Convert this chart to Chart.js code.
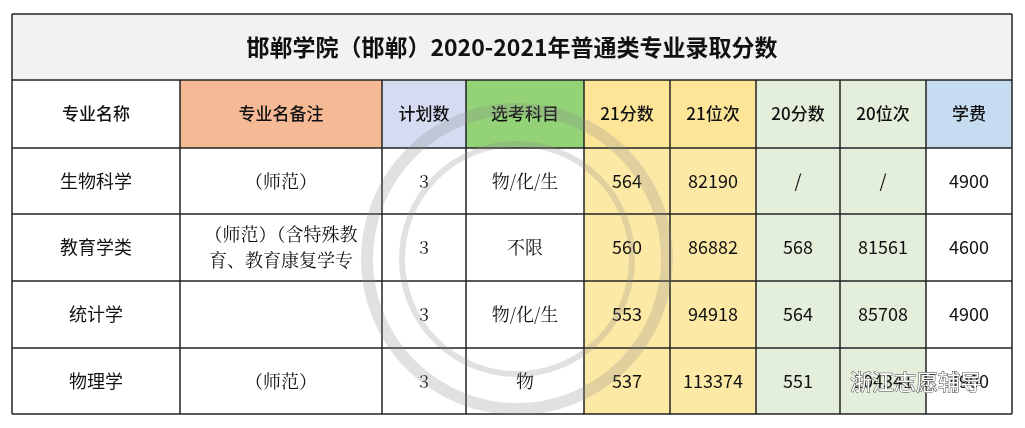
<!DOCTYPE html>
<html><head><meta charset="utf-8">
<script src="https://cdn.jsdelivr.net/npm/chart.js@4"></script>
<style>html,body{margin:0;padding:0;background:#fff}#w{width:1025px;height:428px}</style>
</head><body><div id="w"><canvas id="c"></canvas></div>
<script>
const title = "邯郸学院（邯郸）2020-2021年普通类专业录取分数";
const headers = ["专业名称","专业名备注","计划数","选考科目","21分数","21位次","20分数","20位次","学费"];
const majors = ["生物科学","教育学类","统计学","物理学"];
const notes = ["（师范）","（师范）（含特殊教育、教育康复学专","","（师范）"];
const plans = ["3","3","3","3"];
const subjects = ["物/化/生","不限","物/化/生","物"];
const score21 = ["564","560","553","537"];
const rank21 = ["82190","86882","94918","113374"];
const score20 = ["/","568","564","551"];
const rank20 = ["/","81561","85708","104341"];
const fees = ["4900","4600","4900","4900"];

const colEdges = [0,168,370,454,572,658,744,828,914,1000];
const rowEdges = [0,66,134,200,267,334,400];
const headBg = ["#ffffff","#f5b995","#d5dcf1","#93d277","#fde598","#fde598","#e3efda","#e3efda","#c6dcf1"];
const bodyBg = ["#ffffff","#ffffff","#ffffff","#ffffff","#fde9a6","#fde9a6","#e3efda","#e3efda","#ffffff"];

const tablePlugin = {id:'table', afterDraw(chart){
  const ctx = chart.ctx, X = chart.scales.x, Y = chart.scales.y;
  const px = v => X.getPixelForValue(v), py = v => Y.getPixelForValue(v);
  const rows = majors.map((m,i)=>[m,notes[i],plans[i],subjects[i],score21[i],rank21[i],score20[i],rank20[i],fees[i]]);
  ctx.save();
  ctx.fillStyle="#f2f2f2"; ctx.fillRect(px(0),py(0),px(1000)-px(0),py(66)-py(0));
  ctx.fillStyle="#111"; ctx.font="bold 23px 'Noto Sans CJK SC'"; ctx.textAlign="center"; ctx.textBaseline="middle";
  ctx.fillText(title,(px(0)+px(1000))/2,(py(0)+py(66))/2);
  const all=[headers,...rows];
  all.forEach((r,ri)=>{
    const y0=py(rowEdges[ri+1]), y1=py(rowEdges[ri+2]);
    r.forEach((t,ci)=>{
      const x0=px(colEdges[ci]), x1=px(colEdges[ci+1]);
      ctx.fillStyle = ri===0?headBg[ci]:bodyBg[ci];
      ctx.fillRect(x0,y0,x1-x0,y1-y0);
      ctx.fillStyle="#111";
      const serif = ri>0 && ci>=1 && ci<=3;
      ctx.font = (ri===0?"500 17px ":"18px ")+(serif?"'Noto Serif CJK SC','Noto Sans CJK SC'":"'Noto Sans CJK SC'");
      if(ri>0 && ci===1 && t.length>9){
        ctx.fillText(t.slice(0,9),(x0+x1)/2,(y0+y1)/2-13);
        ctx.fillText(t.slice(9),(x0+x1)/2,(y0+y1)/2+13);
      } else ctx.fillText(t,(x0+x1)/2,(y0+y1)/2);
    });
  });
  ctx.strokeStyle="#222"; ctx.lineWidth=1.5;
  rowEdges.forEach(v=>{ctx.beginPath();ctx.moveTo(px(0),py(v));ctx.lineTo(px(1000),py(v));ctx.stroke();});
  colEdges.forEach((v,i)=>{ctx.beginPath();ctx.moveTo(px(v),py(i===0||i===9?0:66));ctx.lineTo(px(v),py(400));ctx.stroke();});
  ctx.globalAlpha=0.25; ctx.strokeStyle="#888"; ctx.lineWidth=12;
  ctx.beginPath(); ctx.arc(px(505),py(245),150,0,Math.PI*2); ctx.stroke();
  ctx.lineWidth=6; ctx.beginPath(); ctx.arc(px(505),py(245),115,0,Math.PI*2); ctx.stroke();
  ctx.globalAlpha=1; ctx.font="22px 'Noto Sans CJK SC'"; ctx.fillStyle="#fff"; ctx.strokeStyle="#444"; ctx.lineWidth=1;
  ctx.textAlign="left"; ctx.strokeText("浙江志愿辅导",px(838),py(368)); ctx.fillText("浙江志愿辅导",px(838),py(368));
  ctx.restore();
}};
new Chart(document.getElementById('c'),{
  type:'bar',
  data:{labels:[],datasets:[{data:[]}]},
  options:{responsive:true,maintainAspectRatio:false,animation:false,
    layout:{padding:{left:12,right:13,top:14,bottom:14}},
    plugins:{legend:{display:false},tooltip:{enabled:false}},
    scales:{x:{type:'linear',offset:false,min:0,max:1000,display:false},y:{type:'linear',offset:false,min:0,max:400,reverse:true,display:false}}},
  plugins:[tablePlugin]
});
</script></body></html>
